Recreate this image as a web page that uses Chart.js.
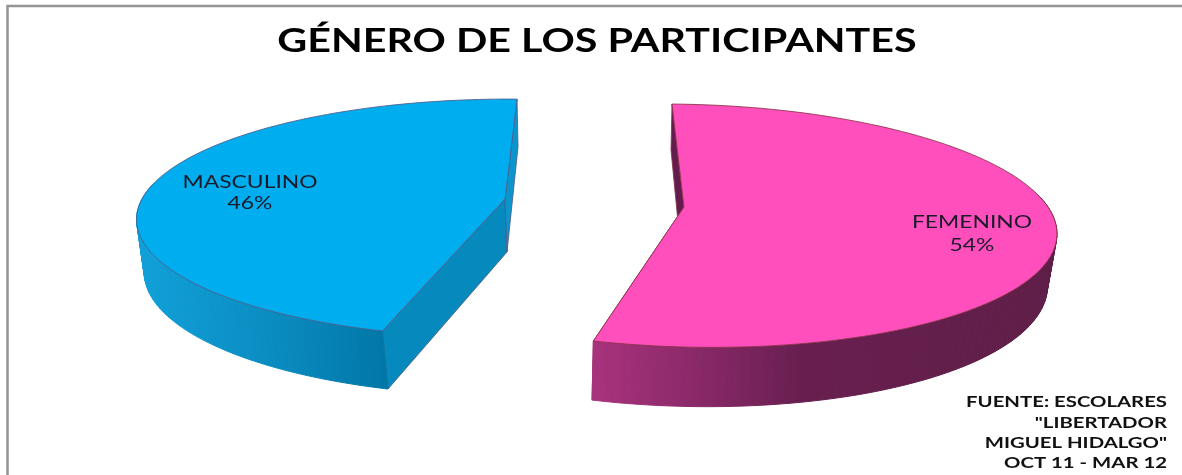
<!DOCTYPE html>
<html>

<head>
    <meta charset="utf-8">
    <title>Género de los participantes</title>
    <script src="https://cdn.jsdelivr.net/npm/chart.js@4/dist/chart.umd.min.js"></script>
    <style>
        html, body { margin: 0; background: #fff; }
        canvas { display: block; }
    </style>
</head>

<body>
    <canvas id="myChart" width="1182" height="475"></canvas>
    <script>
        const categories = ['MASCULINO', 'FEMENINO'];
        const percentages = [46, 54];
        const chartTitle = 'GÉNERO DE LOS PARTICIPANTES';
        const sourceLines = ['FUENTE: ESCOLARES', '"LIBERTADOR', 'MIGUEL HIDALGO"', 'OCT 11 - MAR 12'];

        const FONT = 'Lato, Carlito, sans-serif';

        // perspective of each slice: top face and bottom face (apex x/y, radii, skew, foreshortening)
        const sliceStyles = [
            {
                top: { x: 505, y: 199, a: 363, c: -3.8, b: 116, q: 0.161 },
                bottom: { x: 507, y: 252, a: 358, c: -2.7, b: 121.3, q: 0.155 },
                face: '#00aeef',
                edge: 'rgba(78,92,140,0.85)',
                cutStart: '#0689bd',
                cutEnd: '#0a96cd',
                wall: { x0: 140, x1: 390, stops: [[0, '#10a0d8'], [0.5, '#0b8dc2'], [1, '#0076a6']] },
                label: [250, 182, 203]
            },
            {
                top: { x: 684, y: 207, a: 364, c: 24, b: 118.8, q: 0.1536 },
                bottom: { x: 681.7, y: 260, a: 358, c: 22.2, b: 125.7, q: 0.143 },
                face: '#ff4fbd',
                edge: 'rgba(140,50,70,0.85)',
                cutStart: '#621c4e',
                cutEnd: '#621c4e',
                wall: { x0: 592, x1: 1050, stops: [[0, '#a8337d'], [0.2, '#8e2a6b'], [0.45, '#681f50'], [1, '#5f1e48']] },
                label: [972, 222, 245]
            }
        ];

        function project(f, r, t) {
            const u = r * Math.cos(t);
            const v = r * Math.sin(t);
            const d = 1 - f.q * v;
            return [f.x + (f.a * u + f.c * v) / d, f.y + f.b * v / d];
        }

        function polygon(ctx, pts) {
            ctx.beginPath();
            pts.forEach((p, i) => i ? ctx.lineTo(p[0], p[1]) : ctx.moveTo(p[0], p[1]));
            ctx.closePath();
        }

        function rimPoints(f, start, end) {
            const pts = [];
            const steps = 120;
            for (let i = 0; i <= steps; i++) {
                pts.push(project(f, 1, start + (end - start) * i / steps));
            }
            return pts;
        }

        function drawSlice(ctx, arc, style) {
            const { startAngle, endAngle } = arc.getProps(['startAngle', 'endAngle'], true);
            const topApex = [style.top.x, style.top.y];
            const botApex = [style.bottom.x, style.bottom.y];
            const topRim = rimPoints(style.top, startAngle, endAngle);
            const botRim = rimPoints(style.bottom, startAngle, endAngle);
            const last = topRim.length - 1;

            ctx.lineJoin = 'round';
            ctx.lineWidth = 1;

            // cut faces
            ctx.strokeStyle = style.edge;
            polygon(ctx, [topApex, topRim[0], botRim[0], botApex]);
            ctx.fillStyle = style.cutStart;
            ctx.fill();
            ctx.stroke();
            polygon(ctx, [topApex, topRim[last], botRim[last], botApex]);
            ctx.fillStyle = style.cutEnd;
            ctx.fill();
            ctx.stroke();

            // outer wall, only the part turned towards the viewer
            const g = ctx.createLinearGradient(style.wall.x0, 0, style.wall.x1, 0);
            style.wall.stops.forEach(s => g.addColorStop(s[0], s[1]));
            ctx.fillStyle = g;
            ctx.strokeStyle = g;
            const angleAt = i => startAngle + (endAngle - startAngle) * i / last;
            for (let i = 0; i < last; i++) {
                if (Math.sin(angleAt(i)) < -0.15 || Math.sin(angleAt(i + 1)) < -0.15) continue;
                polygon(ctx, [topRim[i], topRim[i + 1], botRim[i + 1], botRim[i]]);
                ctx.fill();
                ctx.stroke();
            }

            // top face
            polygon(ctx, [topApex].concat(topRim));
            ctx.fillStyle = style.face;
            ctx.strokeStyle = style.edge;
            ctx.fill();
            ctx.stroke();
        }

        // text widened on x only, x is the anchor given by ctx.textAlign
        function wideText(ctx, text, x, y, sx) {
            ctx.save();
            ctx.translate(x, y);
            ctx.scale(sx, 1);
            ctx.fillText(text, 0, 0);
            ctx.restore();
        }

        // draws the pie slices tilted, with depth, instead of the flat arcs
        const tiltedPie = {
            id: 'tiltedPie',
            beforeDraw(chart) {
                // frame on the top and left sides only
                const ctx = chart.ctx;
                ctx.save();
                ctx.strokeStyle = '#949494';
                ctx.lineWidth = 2.5;
                ctx.beginPath();
                ctx.moveTo(7.5, 475);
                ctx.lineTo(7.5, 6);
                ctx.lineTo(1182, 6);
                ctx.stroke();
                ctx.restore();
            },
            beforeDatasetDraw(chart, args) {
                const ctx = chart.ctx;
                ctx.save();
                args.meta.data.forEach((arc, i) => drawSlice(ctx, arc, sliceStyles[i]));
                ctx.restore();
                return false;
            },
            afterDraw(chart) {
                const ctx = chart.ctx;
                ctx.save();
                ctx.textBaseline = 'middle';

                ctx.textAlign = 'center';
                ctx.fillStyle = '#000';
                ctx.font = 'bold 33px ' + FONT;
                wideText(ctx, chartTitle, 597, 41, 1.25);

                ctx.fillStyle = '#1a1a2a';
                ctx.font = '18px ' + FONT;
                categories.forEach((name, i) => {
                    const l = sliceStyles[i].label;
                    wideText(ctx, name, l[0], l[1], 1.27);
                    wideText(ctx, percentages[i] + '%', l[0], l[2], 1.27);
                });

                // source note in the lower corner
                ctx.fillStyle = '#111';
                ctx.textAlign = 'right';
                ctx.font = 'bold 16px ' + FONT;
                [402, 423, 443, 463].forEach((y, i) => wideText(ctx, sourceLines[i], 1167, y, 1.27));
                ctx.restore();
            }
        };

        new Chart(document.getElementById('myChart'), {
            type: 'pie',
            data: {
                labels: categories,
                datasets: [{ data: percentages, backgroundColor: ['#00aeef', '#ff4fbd'] }]
            },
            options: {
                responsive: false,
                animation: false,
                rotation: 196,
                plugins: {
                    legend: { display: false },
                    tooltip: { enabled: false },
                    title: { display: false, text: chartTitle }
                }
            },
            plugins: [tiltedPie]
        });
    </script>
</body>

</html>
